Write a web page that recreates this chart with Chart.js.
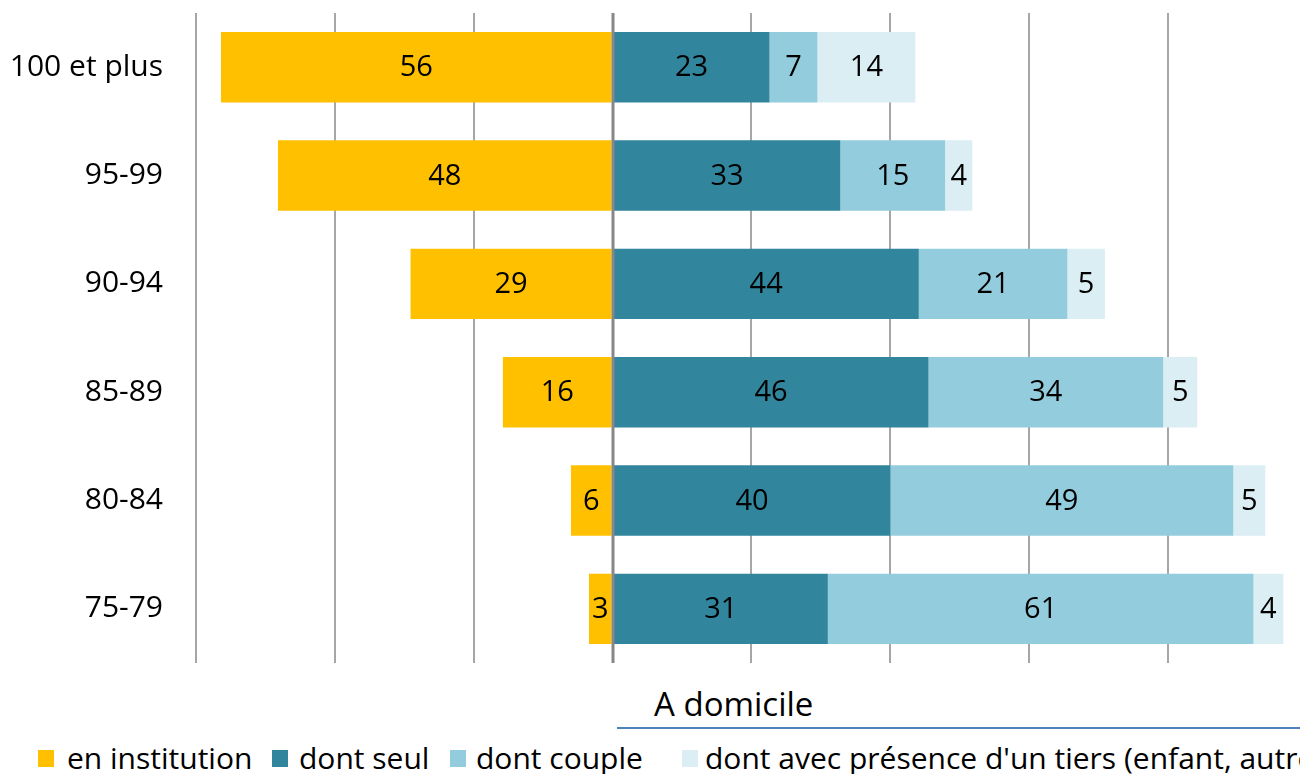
<!DOCTYPE html>
<html>
<head>
<meta charset="utf-8">
<script src="https://cdn.jsdelivr.net/npm/chart.js@4"></script>
<style>
  html, body { margin: 0; padding: 0; background: #fff; width: 1300px; height: 774px; overflow: hidden; font-family: "Open Sans", sans-serif; }
  #wrap { position: absolute; left: 0; top: 0; width: 1300px; height: 680px; }
  #domicile { position: absolute; left: 654px; top: 684px; font-size: 33px; color: #000; line-height: 40px; white-space: nowrap; }
  #domline { position: absolute; left: 617px; top: 727px; width: 700px; height: 2px; background: #4f81bd; }
  #legend { position: absolute; left: 0; top: 738px; width: 1300px; height: 40px; white-space: nowrap; font-size: 30px; line-height: 40px; color: #000; }
  .sw { position: absolute; top: 12px; width: 16px; height: 17px; }
  .txt { position: absolute; top: 0; white-space: nowrap; }
</style>
</head>
<body>
<div id="wrap"><canvas id="c"></canvas></div>
<div id="domicile">A domicile</div>
<div id="domline"></div>
<div id="legend"></div>
<script>
const categories = ["100 et plus", "95-99", "90-94", "85-89", "80-84", "75-79"];
const enInstitution = [56.4, 48.2, 29.1, 15.8, 6.0, 3.4];
const dontSeul = [22.6, 32.8, 44.1, 45.5, 40.0, 31.0];
const dontCouple = [6.9, 15.1, 21.4, 33.8, 49.4, 61.3];
const dontTiers = [14.1, 3.9, 5.4, 4.9, 4.6, 4.3];
const seriesNames = ["en institution", "dont seul", "dont couple", "dont avec présence d'un tiers (enfant, autre)"];
const seriesColors = ["#FFC000", "#31859C", "#93CDDD", "#DBEEF4"];
const gridValues = [-60, -40, -20, 0, 20, 40, 60, 80];

const FONT = '"Open Sans", sans-serif';

const labelPlugin = {
  id: 'labels',
  afterDatasetsDraw(chart) {
    const ctx = chart.ctx;
    const xs = chart.scales.x;
    const area = chart.chartArea;
    const x0 = Math.round(xs.getPixelForValue(0));
    ctx.save();
    ctx.strokeStyle = '#878787';
    ctx.lineWidth = 3;
    ctx.beginPath();
    ctx.moveTo(x0, area.top);
    ctx.lineTo(x0, area.bottom);
    ctx.stroke();
    ctx.font = '29px ' + FONT;
    ctx.fillStyle = '#000';
    ctx.textAlign = 'center';
    ctx.textBaseline = 'middle';
    chart.data.datasets.forEach((ds, di) => {
      const meta = chart.getDatasetMeta(di);
      meta.data.forEach((bar, i) => {
        const v = Math.round(Math.abs(ds.data[i]));
        const cx = (bar.x + bar.base) / 2;
        ctx.fillText(String(v), cx, bar.y + 1);
      });
    });
    ctx.restore();
  }
};

const chart = new Chart(document.getElementById('c'), {
  type: 'bar',
  data: {
    labels: categories,
    datasets: [
      { label: seriesNames[0], data: enInstitution.map(v => -v), backgroundColor: seriesColors[0] },
      { label: seriesNames[1], data: dontSeul, backgroundColor: seriesColors[1] },
      { label: seriesNames[2], data: dontCouple, backgroundColor: seriesColors[2] },
      { label: seriesNames[3], data: dontTiers, backgroundColor: seriesColors[3] }
    ]
  },
  options: {
    indexAxis: 'y',
    responsive: true,
    maintainAspectRatio: false,
    animation: false,
    layout: { padding: { top: 13, bottom: 17, left: 0, right: 0 } },
    datasets: { bar: { categoryPercentage: 0.65, barPercentage: 1.0, borderWidth: 0 } },
    plugins: { legend: { display: false }, tooltip: { enabled: false } },
    scales: {
      x: {
        stacked: true,
        min: -60,
        max: 99,
        afterBuildTicks(scale) { scale.ticks = gridValues.map(v => ({ value: v })); },
        afterFit(scale) { scale.height = 0; scale.paddingLeft = 0; scale.paddingRight = 0; },
        ticks: { display: false },
        border: { display: false },
        grid: { drawTicks: false, color: '#a6a6a6', lineWidth: 2 }
      },
      y: {
        stacked: true,
        afterFit(scale) { scale.width = 196; scale.paddingTop = 0; scale.paddingBottom = 0; },
        border: { display: false },
        grid: { display: false, drawTicks: false },
        ticks: { color: '#000', font: { family: FONT, size: 30 }, padding: 33 }
      }
    }
  },
  plugins: [labelPlugin]
});

const legend = document.getElementById('legend');
const swatchX = [38, 272, 450, 682];
const textX = [67, 299, 476, 705];
seriesNames.forEach((name, i) => {
  const sw = document.createElement('span');
  sw.className = 'sw';
  sw.style.left = swatchX[i] + 'px';
  sw.style.background = seriesColors[i];
  legend.appendChild(sw);
  const t = document.createElement('span');
  t.className = 'txt';
  t.style.left = textX[i] + 'px';
  t.textContent = name;
  legend.appendChild(t);
});
</script>
</body>
</html>
